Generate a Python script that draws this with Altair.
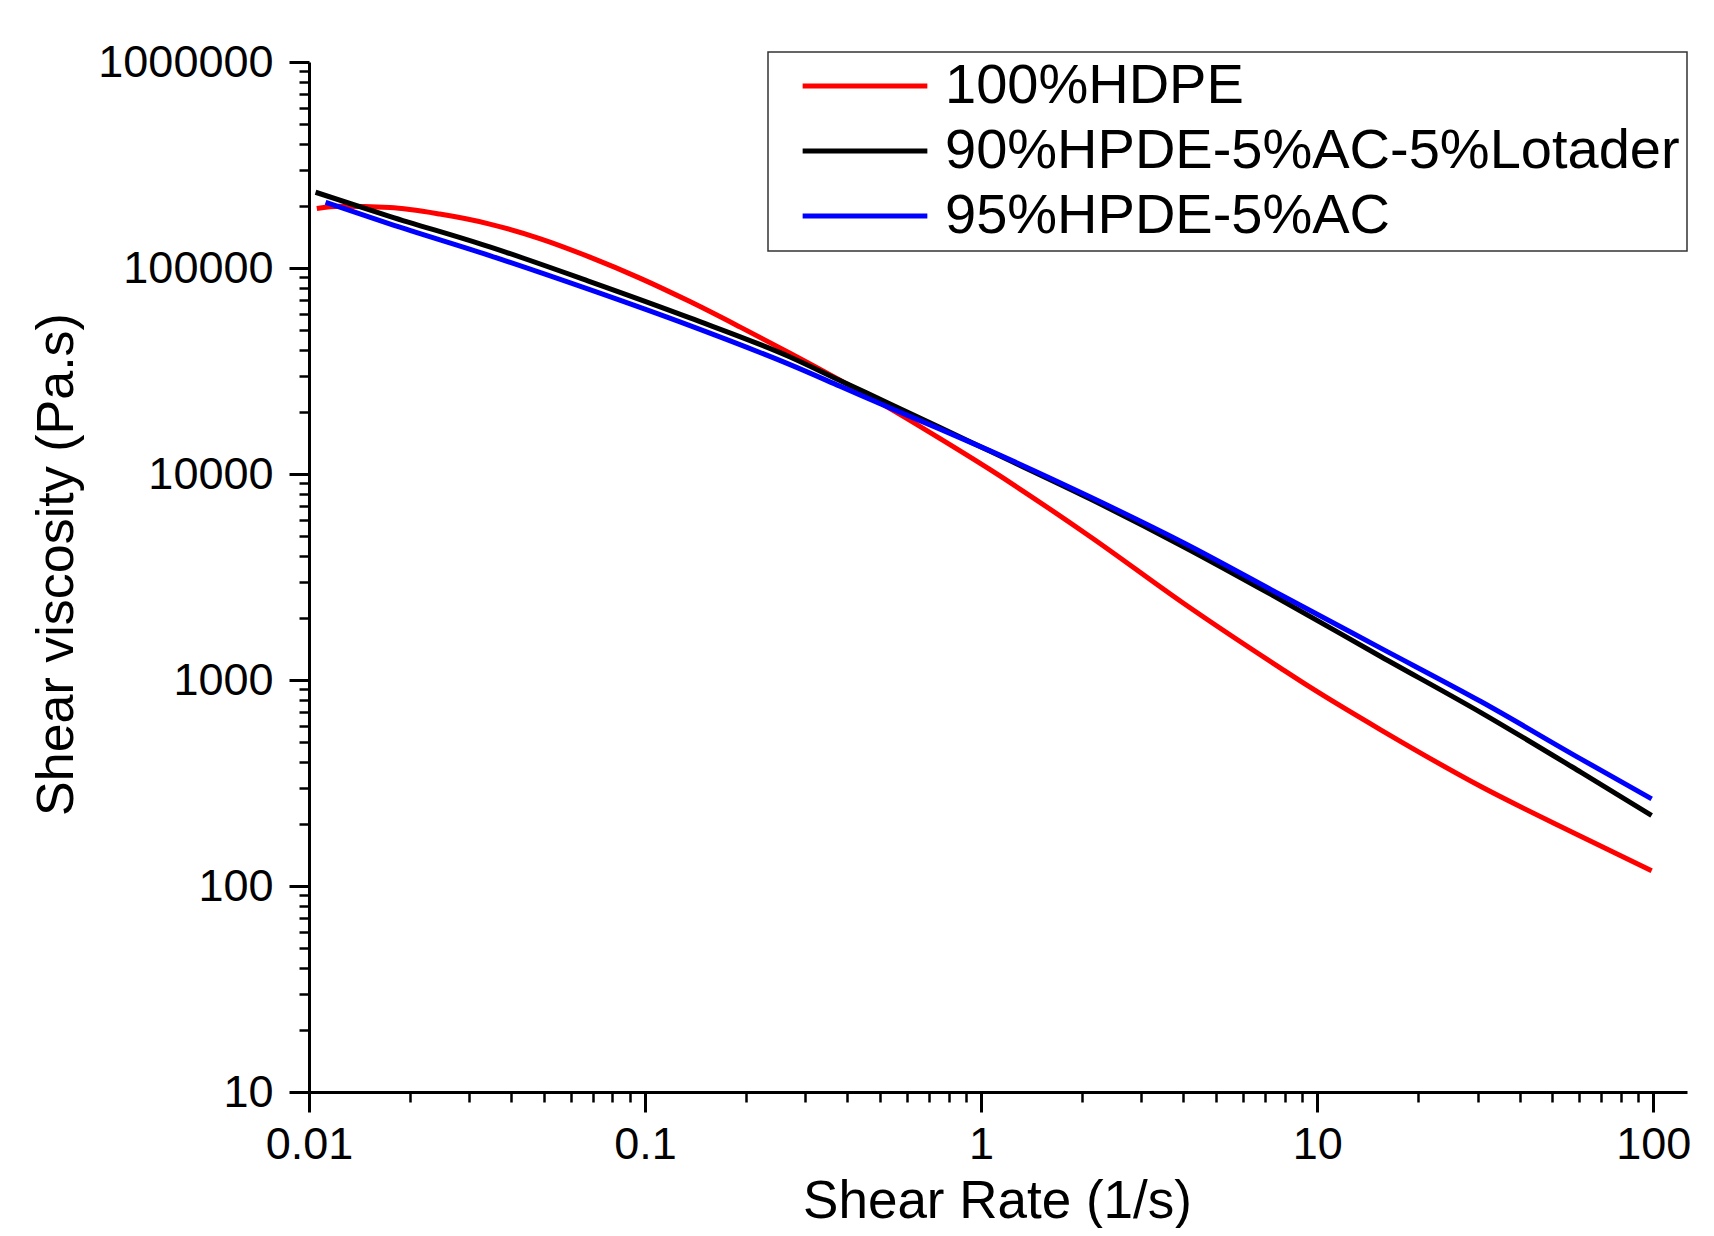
import altair as alt
import pandas as pd

# ---- data ----
series_names = ["100%HDPE", "90%HPDE-5%AC-5%Lotader", "95%HPDE-5%AC"]
series_colors = ["#ff0000", "#000000", "#0000ff"]

hdpe_rate = [0.01055, 0.0123, 0.0174, 0.0245, 0.0345, 0.0486, 0.0685, 0.0965, 0.136, 0.192,
             0.27, 0.38, 0.536, 0.755, 1.064, 2.113, 4.0, 7.78, 9.55, 15.45, 30.7, 61.0, 98.9]
hdpe_visc = [194400, 199400, 196400, 182700, 163400, 138950, 112950, 89330, 68680, 51640,
             38620, 28550, 20760, 14840, 10490, 4961, 2358, 1142, 920, 573, 304, 174, 118.5]

lot_rate = [0.01046, 0.01737, 0.0345, 0.0685, 0.136, 0.27, 0.38, 0.536, 0.755, 1.064,
            2.113, 4.0, 7.78, 15.45, 30.7, 61.0, 98.9]
lot_visc = [233200, 178300, 126600, 85900, 57230, 37000, 28440, 21880, 16820, 12880,
            7558, 4437, 2452, 1301, 695, 356, 220]

ac_rate = [0.0112, 0.01737, 0.0345, 0.0685, 0.136, 0.27, 0.38, 0.536, 0.755, 1.064,
           2.113, 4.0, 7.78, 15.45, 30.7, 61.0, 98.9]
ac_visc = [208500, 163800, 114900, 78500, 52500, 33950, 26700, 20920, 16510, 12950,
           7730, 4638, 2594, 1428, 786, 413, 265]

x_major = [0.01, 0.1, 1, 10, 100]
x_minor = [m * d for d in [0.01, 0.1, 1, 10] for m in range(2, 10)]
y_major = [10, 100, 1000, 10000, 100000, 1000000]
y_minor = [m * d for d in [10, 100, 1000, 10000, 100000] for m in range(2, 10)]

rows = []
for name, xs, ys in [(series_names[0], hdpe_rate, hdpe_visc),
                     (series_names[1], lot_rate, lot_visc),
                     (series_names[2], ac_rate, ac_visc)]:
    for xv, yv in zip(xs, ys):
        rows.append({"series": name, "rate": xv, "visc": yv})
df = pd.DataFrame(rows)

FONT = "Liberation Sans"

xscale = alt.Scale(type="log", domain=[0.01, 126], nice=False)
yscale = alt.Scale(type="log", domain=[10, 1000000], nice=False)

lines = alt.Chart(df).mark_line(strokeWidth=5, interpolate="monotone").encode(
    x=alt.X("rate:Q", scale=xscale,
            axis=alt.Axis(values=x_major, format="~r", orient="bottom",
                          title="Shear Rate (1/s)", titleX=688, titleY=125,
                          titleFontSize=53,
                          titleBaseline="alphabetic", titleAlign="center",
                          labelPadding=10, labelFlush=False, labelOverlap=False,
                          tickSize=20, tickWidth=3, domainWidth=3)),
    y=alt.Y("visc:Q", scale=yscale,
            axis=alt.Axis(values=y_major, format="d", orient="left",
                          title="Shear viscosity (Pa.s)", titleX=-237, titleY=502,
                          titleFontSize=52,
                          titleAngle=270, titleBaseline="alphabetic", titleAlign="center",
                          labelPadding=16, labelFlush=False, labelOverlap=False,
                          tickSize=20, tickWidth=3, domainWidth=3)),
    color=alt.Color("series:N",
                    scale=alt.Scale(domain=series_names, range=series_colors),
                    sort=series_names,
                    legend=alt.Legend(title=None, orient="none", legendX=459, legendY=-10,
                                      padding=7, clipHeight=54, rowPadding=9,
                                      symbolType="stroke", symbolSize=15550,
                                      symbolStrokeWidth=5, symbolOffset=25,
                                      labelOffset=15, labelFontSize=56, labelFont=FONT,
                                      labelColor="black", labelLimit=2000,
                                      labelExpr="datum.label + '\u00a0\u00a0\u00a0\u00a0\u00a0\u00a0'",
                                      strokeColor="#333333", fillColor="white")),
)

minor = alt.Chart(df).mark_point(opacity=0).encode(
    x=alt.X("rate:Q", scale=xscale,
            axis=alt.Axis(values=x_minor, orient="bottom", labels=False, domain=False,
                          title=None, tickSize=10, tickWidth=2.5, grid=False)),
    y=alt.Y("visc:Q", scale=yscale,
            axis=alt.Axis(values=y_minor, orient="left", labels=False, domain=False,
                          title=None, tickSize=10, tickWidth=2.5, grid=False)),
)

chart = alt.layer(lines, minor).resolve_axis(x="independent", y="independent").properties(
    width=1378, height=1030,
    padding={"left": 301, "top": 54, "right": 19, "bottom": 136},
    autosize=alt.AutoSizeParams(type="none"),
).configure(font=FONT).configure_axis(
    grid=False, domainColor="black", tickColor="black", labelColor="black",
    labelFont=FONT, labelFontSize=45, titleFont=FONT, titleFontSize=50,
    titleFontWeight="normal", titleColor="black",
).configure_legend(strokeWidth=1.5).configure_view(stroke=None)

chart.save("out.html", embed_options={"renderer": "svg", "actions": False})
